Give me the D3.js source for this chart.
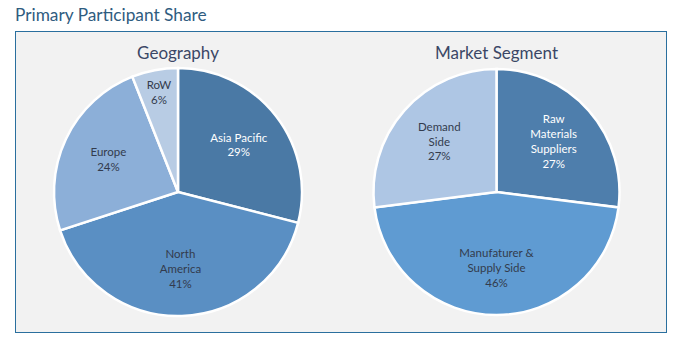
<!DOCTYPE html>
<html><head><meta charset="utf-8">
<script src="https://cdn.jsdelivr.net/npm/d3@7"></script>
<style>body{margin:0;background:#fff;} svg{display:block;font-family:Lato,"Open Sans",sans-serif;}</style>
</head><body>
<svg id="c" width="691" height="355"></svg>
<script>
const chartTitle = "Primary Participant Share";
const geoTitle = "Geography";
const geoLabels = [["Asia Pacific"], ["North", "America"], ["Europe"], ["RoW"]];
const geoValues = [29, 41, 24, 6];
const geoColors = ["#4a79a5", "#5a8fc3", "#8cafd8", "#b8cce4"];
const geoTextColors = ["#ffffff", "#333b4d", "#333b4d", "#333b4d"];

const segTitle = "Market Segment";
const segLabels = [["Raw", "Materials", "Suppliers"], ["Manufaturer &", "Supply Side"], ["Demand", "Side"]];
const segValues = [27, 46, 27];
const segColors = ["#4e7eac", "#5f9bd2", "#aec6e4"];
const segTextColors = ["#ffffff", "#333b4d", "#333b4d"];

const svg = d3.select("#c");
svg.append("text").attr("x", 15).attr("y", 21).attr("font-size", 17.3).attr("fill", "#2f5c7f").text(chartTitle);
svg.append("rect").attr("x", 15.5).attr("y", 31.5).attr("width", 651).attr("height", 301)
  .attr("fill", "#f2f2f2").attr("stroke", "#2a6f9e").attr("stroke-width", 1);

function drawPie(cx, cy, R, title, labels, values, colors, textColors) {
  const g = svg.append("g").attr("transform", `translate(${cx},${cy})`);
  svg.append("text").attr("x", cx).attr("y", cy - 133).attr("text-anchor", "middle")
    .attr("font-size", 17).attr("fill", "#3b4766").text(title);
  const pie = d3.pie().sort(null).value(d => d)(values);
  const arc = d3.arc().innerRadius(0).outerRadius(R);
  g.selectAll("path").data(pie).join("path").attr("d", arc)
    .attr("fill", (d, i) => colors[i]).attr("stroke", "#ffffff").attr("stroke-width", 2.5);
  const total = d3.sum(values);
  pie.forEach((d, i) => {
    const frac = d.value / total;
    const lr = frac < 0.1 ? R * 0.82 : R * 0.62;
    const c = d3.arc().innerRadius(lr).outerRadius(lr).centroid(d);
    const lines = labels[i].concat([Math.round(frac * 100) + "%"]);
    const lh = 14.8;
    const y0 = c[1] - (lines.length - 1) * lh / 2;
    const t = g.append("text").attr("text-anchor", "middle").attr("font-size", 11.5).attr("fill", textColors[i]);
    lines.forEach((ln, k) => t.append("tspan").attr("x", c[0]).attr("y", y0 + k * lh).attr("dy", "0.35em").text(ln));
  });
}
drawPie(178, 192, 124, geoTitle, geoLabels, geoValues, geoColors, geoTextColors);
drawPie(496.5, 192, 123, segTitle, segLabels, segValues, segColors, segTextColors);
</script>
</body></html>
